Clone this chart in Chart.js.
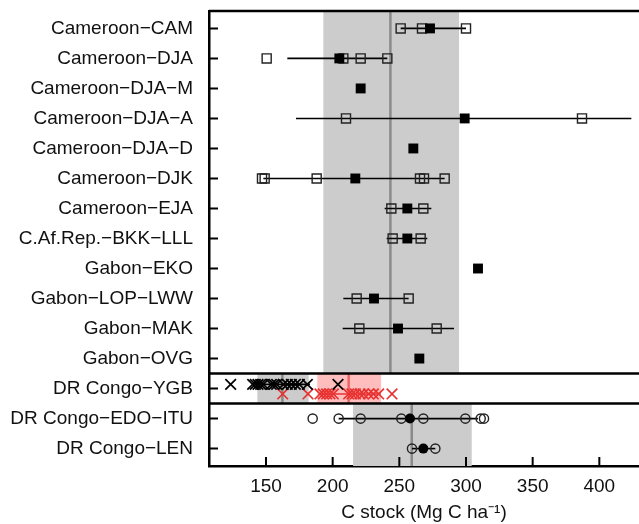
<!DOCTYPE html>
<html>
<head>
<meta charset="utf-8">
<script src="https://cdn.jsdelivr.net/npm/chart.js@4"></script>
<style>
  body { margin: 0; background: #fff; }
</style>
</head>
<body>
<canvas id="myChart" width="639" height="524"></canvas>
<script>

const sites = ['Cameroon−CAM', 'Cameroon−DJA', 'Cameroon−DJA−M', 'Cameroon−DJA−A', 'Cameroon−DJA−D',
    'Cameroon−DJK', 'Cameroon−EJA', 'C.Af.Rep.−BKK−LLL', 'Gabon−EKO', 'Gabon−LOP−LWW', 'Gabon−MAK',
    'Gabon−OVG', 'DR Congo−YGB', 'DR Congo−EDO−ITU', 'DR Congo−LEN'];

// individual plot values (open markers)
const plotValues = [
    [251, 267, 300],
    [150.5, 208, 221, 241],
    [],
    [210, 387],
    [],
    [147, 149, 188, 265.5, 268.5, 284],
    [244, 268],
    [245, 266],
    [],
    [218, 257],
    [220, 278],
    [],
    [],
    [185, 204.5, 221, 251.5, 268, 299.5, 311, 313.5],
    [259.5, 277]
];
// site means (filled markers)
const siteMeans = [273, 205, 221, 299, 260.5, 217, 256, 256, 309, 231, 249, 265, null, 258, 268];
const intervalLow = [251, 166, null, 172.5, null, 148, 239, 240.5, null, 208, 207.5, null, null, 204.5, 259.5];
const intervalHigh = [300, 241, null, 424, null, 284, 274, 271, null, 257, 291, null, null, 309, 277];

// YGB plots, two groups
const ygbBlack = [123.5, 140, 142, 144, 146, 148, 154, 156, 158, 163, 166, 169, 172, 175, 181, 204];
const ygbRed = [162.5, 181.5, 190.5, 193, 195.5, 198, 200.5, 212, 214.5, 217, 220.5, 223, 227, 230.5, 234.5, 244.5];
const ygbBlackRange = [142, 183];
const ygbRedRange = [190, 236];

// reference bands: top panel, YGB grey, YGB red, bottom panel
const bandLow = [193, 143.5, 188.5, 215.3];
const bandHigh = [294.8, 182, 236.3, 304.3];
const bandMean = [243.3, 162.3, 212, 259.3];

const xTicks = [150, 200, 250, 300, 350, 400];

const ROW_YGB = 12;
const font = { family: "'Liberation Sans', Arial, sans-serif", size: 19 };

function bandRows(i) {
    if (i == 0) return [-0.6, 11.5];
    if (i == 3) return [12.5, 14.6];
    return [11.5, 12.5];
}

function noPadding(scale) {
    scale.paddingTop = 0;
    scale.paddingBottom = 0;
    scale.paddingLeft = 0;
    scale.paddingRight = 0;
}

const panelPlugin = {
    id: 'panels',
    beforeDatasetsDraw(chart) {
        const { ctx, chartArea, scales: { x, y } } = chart;
        ctx.save();
        ctx.beginPath();
        ctx.rect(chartArea.left, chartArea.top, chartArea.right - chartArea.left, chartArea.bottom - chartArea.top);
        ctx.clip();
        for (let i = 0; i < bandLow.length; i++) {
            const rows = bandRows(i);
            const top = y.getPixelForValue(rows[0]);
            const bottom = y.getPixelForValue(rows[1]);
            ctx.fillStyle = i == 2 ? '#ffbdbd' : '#cccccc';
            const x0 = x.getPixelForValue(bandLow[i]);
            const x1 = x.getPixelForValue(bandHigh[i]);
            ctx.fillRect(x0, top, x1 - x0, bottom - top);
        }
        for (let i = 0; i < bandMean.length; i++) {
            const rows = bandRows(i);
            const xm = x.getPixelForValue(bandMean[i]);
            ctx.strokeStyle = i == 2 ? '#f06464' : '#8a8a8a';
            ctx.lineWidth = 2.5;
            ctx.beginPath();
            ctx.moveTo(xm, y.getPixelForValue(rows[0]));
            ctx.lineTo(xm, y.getPixelForValue(rows[1]));
            ctx.stroke();
        }
        ctx.restore();
    },
    afterDraw(chart) {
        const { ctx, chartArea, scales: { x, y } } = chart;
        ctx.save();
        ctx.strokeStyle = '#000';
        ctx.lineWidth = 2.5;
        ctx.beginPath();
        // frame top + panel dividers
        ctx.moveTo(chartArea.left, chartArea.top);
        ctx.lineTo(chartArea.right, chartArea.top);
        [11.5, 12.5].forEach(r => {
            const py = y.getPixelForValue(r);
            ctx.moveTo(chartArea.left, py);
            ctx.lineTo(chartArea.right, py);
        });
        ctx.stroke();

        // inward ticks
        ctx.lineWidth = 2;
        ctx.beginPath();
        y.ticks.forEach(t => {
            const py = y.getPixelForValue(t.value);
            ctx.moveTo(chartArea.left, py);
            ctx.lineTo(chartArea.left + 9, py);
        });
        x.ticks.forEach(t => {
            const px = x.getPixelForValue(t.value);
            ctx.moveTo(px, chartArea.bottom);
            ctx.lineTo(px, chartArea.bottom - 9);
        });
        ctx.stroke();
        ctx.restore();
    }
};

function buildDatasets() {
    const datasets = [];

    // interval lines
    for (let i = 0; i < sites.length; i++) {
        if (intervalLow[i] == null) continue;
        datasets.push({
            type: 'line',
            data: [{ x: intervalLow[i], y: i }, { x: intervalHigh[i], y: i }],
            borderColor: '#000',
            borderWidth: 1.6,
            pointRadius: 0,
            order: 3
        });
    }
    datasets.push({
        type: 'line',
        data: ygbBlackRange.map(v => ({ x: v, y: ROW_YGB - 0.14 })),
        borderColor: '#000', borderWidth: 1.6, pointRadius: 0, order: 3
    });
    datasets.push({
        type: 'line',
        data: ygbRedRange.map(v => ({ x: v, y: ROW_YGB + 0.18 })),
        borderColor: '#e83232', borderWidth: 1.6, pointRadius: 0, order: 3
    });

    // open markers
    const openSquares = [];
    const openCircles = [];
    plotValues.forEach((vals, i) => {
        vals.forEach(v => {
            if (i > ROW_YGB) openCircles.push({ x: v, y: i });
            else openSquares.push({ x: v, y: i });
        });
    });
    datasets.push({
        type: 'scatter', data: openSquares, pointStyle: 'rect', pointRadius: 6.4,
        pointBorderColor: '#222', pointBorderWidth: 1.4, pointBackgroundColor: 'rgba(0,0,0,0)', order: 1
    });
    datasets.push({
        type: 'scatter', data: openCircles, pointStyle: 'circle', pointRadius: 4.6,
        pointBorderColor: '#222', pointBorderWidth: 1.4, pointBackgroundColor: 'rgba(0,0,0,0)', order: 1
    });

    // crosses for YGB
    datasets.push({
        type: 'scatter', data: ygbBlack.map(v => ({ x: v, y: ROW_YGB - 0.14 })), pointStyle: 'crossRot',
        pointRadius: 7.5, pointBorderColor: '#000', pointBorderWidth: 1.7, order: 1
    });
    datasets.push({
        type: 'scatter', data: ygbRed.map(v => ({ x: v, y: ROW_YGB + 0.18 })), pointStyle: 'crossRot',
        pointRadius: 7.5, pointBorderColor: '#e83232', pointBorderWidth: 1.7, order: 1
    });

    // filled means
    const meanSquares = [];
    const meanCircles = [];
    siteMeans.forEach((v, i) => {
        if (v == null) return;
        if (i > ROW_YGB) meanCircles.push({ x: v, y: i });
        else meanSquares.push({ x: v, y: i });
    });
    datasets.push({
        type: 'scatter', data: meanSquares, pointStyle: 'rect', pointRadius: 7,
        pointBorderColor: '#000', pointBorderWidth: 0, pointBackgroundColor: '#000', order: 0
    });
    datasets.push({
        type: 'scatter', data: meanCircles, pointStyle: 'circle', pointRadius: 5,
        pointBorderColor: '#000', pointBorderWidth: 0, pointBackgroundColor: '#000', order: 0
    });

    return datasets;
}

new Chart(document.getElementById('myChart'), {
    type: 'scatter',
    data: { datasets: buildDatasets() },
    options: {
        responsive: false,
        animation: false,
        events: [],
        layout: { autoPadding: false, padding: { top: 11, right: 0, bottom: 0, left: 0 } },
        plugins: { legend: { display: false }, tooltip: { enabled: false } },
        scales: {
            x: {
                type: 'linear',
                min: 107.25,
                max: 429.75,
                afterBuildTicks: scale => { scale.ticks = xTicks.map(v => ({ value: v })); },
                afterFit: scale => { scale.height = 58; noPadding(scale); },
                grid: { display: false, drawTicks: false },
                border: { display: true, color: '#000', width: 2.5 },
                ticks: { color: '#111', font: font, padding: 9, maxRotation: 0 },
                title: { display: true, text: 'C stock (Mg C ha⁻¹)', color: '#111', font: font, padding: { top: 0, bottom: 0 } }
            },
            y: {
                type: 'linear',
                reverse: true,
                min: -0.58,
                max: 14.58,
                afterBuildTicks: scale => { scale.ticks = sites.map((s, i) => ({ value: i })); },
                afterFit: scale => { scale.width = 209; noPadding(scale); },
                grid: { display: false, drawTicks: false },
                border: { display: true, color: '#000', width: 2.5 },
                ticks: { color: '#111', font: font, padding: 16, autoSkip: false, callback: v => sites[v] }
            }
        }
    },
    plugins: [panelPlugin]
});
</script>
</body>
</html>
